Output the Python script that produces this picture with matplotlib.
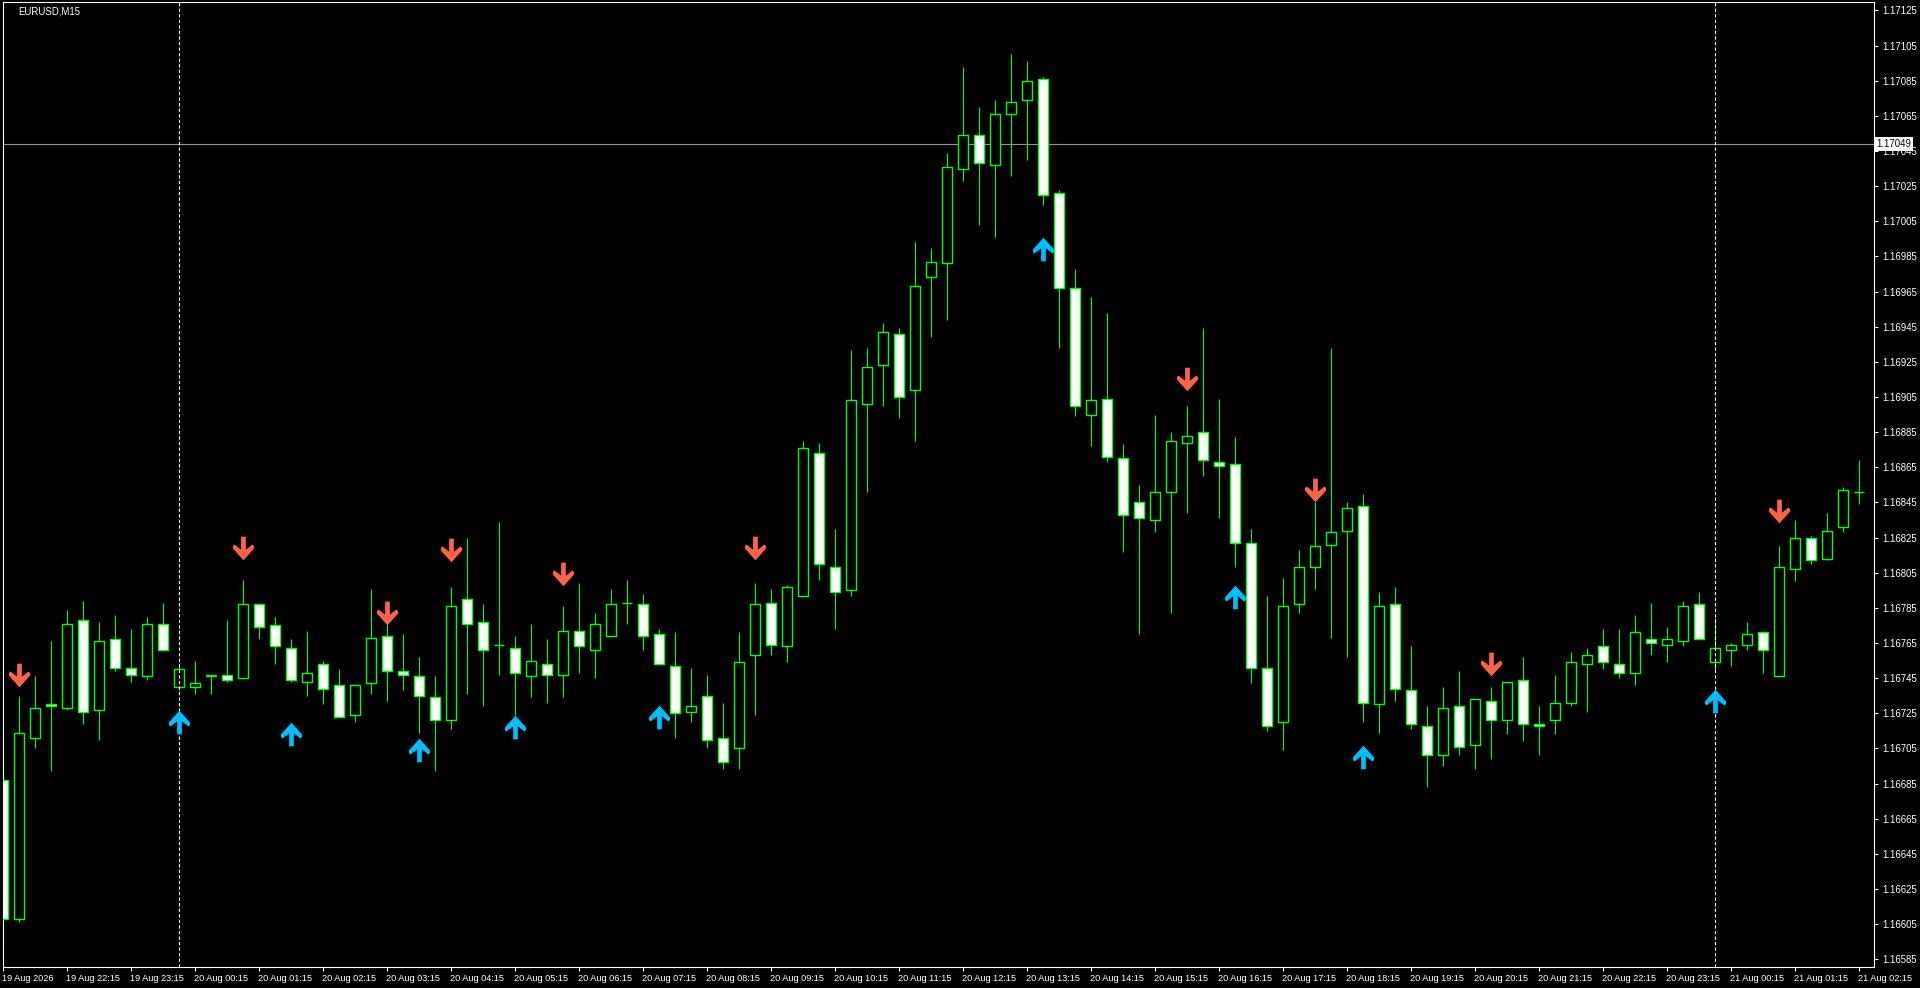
import matplotlib
matplotlib.use("Agg")
import matplotlib.pyplot as plt
import matplotlib.transforms as mtransforms
from matplotlib.path import Path
import numpy as np

# EURUSD M15 bars, 19 Aug 21:15 -> 21 Aug 02:15
opens = [1.16687, 1.16608, 1.16711, 1.16730, 1.16728, 1.16778, 1.16727, 1.16767, 1.16751, 1.16746,
         1.16776, 1.16740, 1.16740, 1.16747, 1.16747, 1.16745, 1.16787, 1.16775, 1.16762, 1.16743,
         1.16753, 1.16741, 1.16724, 1.16742, 1.16769, 1.16749, 1.16746, 1.16734, 1.16721, 1.16790,
         1.16777, 1.16764, 1.16762, 1.16746, 1.16753, 1.16747, 1.16772, 1.16761, 1.16769, 1.16788,
         1.16787, 1.16770, 1.16752, 1.16726, 1.16735, 1.16711, 1.16705, 1.16758, 1.16788, 1.16763,
         1.16792, 1.16873, 1.16808, 1.16795, 1.16901, 1.16923, 1.16941, 1.16909, 1.16973, 1.16981,
         1.17035, 1.17054, 1.17037, 1.17066, 1.17074, 1.17086, 1.17021, 1.16967, 1.16895, 1.16904,
         1.16870, 1.16845, 1.16835, 1.16851, 1.16879, 1.16885, 1.16868, 1.16867, 1.16822, 1.16751,
         1.16720, 1.16787, 1.16808, 1.16821, 1.16829, 1.16843, 1.16730, 1.16787, 1.16738, 1.16718,
         1.16701, 1.16729, 1.16707, 1.16732, 1.16721, 1.16744, 1.16719, 1.16721, 1.16731, 1.16753,
         1.16763, 1.16753, 1.16748, 1.16767, 1.16764, 1.16766, 1.16787, 1.16754, 1.16761, 1.16764,
         1.16771, 1.16746, 1.16807, 1.16825, 1.16813, 1.16831, 1.16851]
highs = [1.16691, 1.16735, 1.16746, 1.16766, 1.16784, 1.16789, 1.16777, 1.16781, 1.16773, 1.16780,
         1.16788, 1.16752, 1.16755, 1.16747, 1.16778, 1.16801, 1.16788, 1.16780, 1.16767, 1.16772,
         1.16755, 1.16750, 1.16741, 1.16796, 1.16789, 1.16770, 1.16757, 1.16746, 1.16797, 1.16825,
         1.16787, 1.16834, 1.16769, 1.16776, 1.16767, 1.16786, 1.16799, 1.16782, 1.16796, 1.16801,
         1.16793, 1.16773, 1.16771, 1.16751, 1.16747, 1.16731, 1.16771, 1.16799, 1.16796, 1.16798,
         1.16880, 1.16879, 1.16830, 1.16932, 1.16933, 1.16947, 1.16944, 1.16993, 1.16990, 1.17044,
         1.17093, 1.17070, 1.17074, 1.17100, 1.17096, 1.17087, 1.17023, 1.16978, 1.16962, 1.16953,
         1.16878, 1.16855, 1.16895, 1.16885, 1.16900, 1.16944, 1.16904, 1.16882, 1.16830, 1.16792,
         1.16802, 1.16818, 1.16845, 1.16933, 1.16845, 1.16850, 1.16794, 1.16797, 1.16763, 1.16729,
         1.16740, 1.16749, 1.16733, 1.16740, 1.16743, 1.16757, 1.16729, 1.16747, 1.16760, 1.16762,
         1.16773, 1.16773, 1.16781, 1.16788, 1.16774, 1.16789, 1.16794, 1.16779, 1.16765, 1.16777,
         1.16772, 1.16820, 1.16835, 1.16826, 1.16839, 1.16854, 1.16869]
lows = [1.16594, 1.16606, 1.16705, 1.16692, 1.16727, 1.16719, 1.16710, 1.16749, 1.16743, 1.16744,
        1.16761, 1.16738, 1.16736, 1.16736, 1.16743, 1.16745, 1.16767, 1.16753, 1.16743, 1.16735,
        1.16730, 1.16723, 1.16720, 1.16736, 1.16732, 1.16738, 1.16714, 1.16692, 1.16716, 1.16736,
        1.16729, 1.16747, 1.16724, 1.16734, 1.16731, 1.16734, 1.16748, 1.16745, 1.16769, 1.16776,
        1.16761, 1.16753, 1.16711, 1.16720, 1.16705, 1.16693, 1.16693, 1.16724, 1.16758, 1.16754,
        1.16792, 1.16801, 1.16773, 1.16792, 1.16851, 1.16900, 1.16893, 1.16880, 1.16939, 1.16949,
        1.17028, 1.17003, 1.16996, 1.17031, 1.17040, 1.17014, 1.16933, 1.16894, 1.16877, 1.16868,
        1.16817, 1.16770, 1.16828, 1.16782, 1.16839, 1.16860, 1.16836, 1.16808, 1.16742, 1.16715,
        1.16704, 1.16782, 1.16796, 1.16768, 1.16757, 1.16720, 1.16714, 1.16732, 1.16716, 1.16683,
        1.16695, 1.16701, 1.16693, 1.16699, 1.16713, 1.16709, 1.16701, 1.16713, 1.16729, 1.16726,
        1.16750, 1.16745, 1.16741, 1.16758, 1.16754, 1.16763, 1.16767, 1.16749, 1.16752, 1.16761,
        1.16748, 1.16746, 1.16800, 1.16810, 1.16812, 1.16828, 1.16844]
closes = [1.16608, 1.16714, 1.16728, 1.16729, 1.16776, 1.16726, 1.16766, 1.16751, 1.16747, 1.16776,
          1.16761, 1.16750, 1.16742, 1.16746, 1.16744, 1.16787, 1.16774, 1.16763, 1.16744, 1.16748,
          1.16739, 1.16723, 1.16741, 1.16768, 1.16749, 1.16747, 1.16735, 1.16721, 1.16786, 1.16776,
          1.16761, 1.16764, 1.16748, 1.16755, 1.16747, 1.16772, 1.16763, 1.16776, 1.16787, 1.16788,
          1.16769, 1.16753, 1.16725, 1.16729, 1.16710, 1.16697, 1.16754, 1.16787, 1.16764, 1.16797,
          1.16876, 1.16810, 1.16794, 1.16903, 1.16922, 1.16942, 1.16905, 1.16968, 1.16982, 1.17036,
          1.17054, 1.17038, 1.17066, 1.17073, 1.17085, 1.17020, 1.16967, 1.16900, 1.16903, 1.16871,
          1.16838, 1.16836, 1.16851, 1.16880, 1.16883, 1.16869, 1.16866, 1.16822, 1.16751, 1.16718,
          1.16786, 1.16808, 1.16820, 1.16828, 1.16842, 1.16731, 1.16786, 1.16739, 1.16719, 1.16701,
          1.16728, 1.16706, 1.16733, 1.16721, 1.16743, 1.16719, 1.16718, 1.16731, 1.16754, 1.16758,
          1.16754, 1.16748, 1.16771, 1.16765, 1.16767, 1.16786, 1.16767, 1.16762, 1.16764, 1.16770,
          1.16761, 1.16808, 1.16825, 1.16812, 1.16829, 1.16852, 1.16851]

# indicator arrows (bar index, price)
sell_bars = [1, 15, 24, 28, 35, 47, 74, 82, 93, 111]
sell_prices = [1.16747, 1.16819, 1.16782, 1.16818, 1.16804, 1.16819, 1.16915, 1.16852, 1.16753, 1.16840]
buy_bars = [11, 18, 26, 32, 41, 65, 77, 85, 107]
buy_prices = [1.16720, 1.16713, 1.16704, 1.16717, 1.16723, 1.16989, 1.16791, 1.16700, 1.16732]

time_tick_bars = [0, 4, 8, 12, 16, 20, 24, 28, 32, 36, 40, 44, 48, 52, 56,
                  60, 64, 68, 72, 76, 80, 84, 88, 92, 96, 100, 104, 108, 112, 116]
time_tick_labels = ["19 Aug 2026", "19 Aug 22:15", "19 Aug 23:15", "20 Aug 00:15", "20 Aug 01:15",
                    "20 Aug 02:15", "20 Aug 03:15", "20 Aug 04:15", "20 Aug 05:15", "20 Aug 06:15",
                    "20 Aug 07:15", "20 Aug 08:15", "20 Aug 09:15", "20 Aug 10:15", "20 Aug 11:15",
                    "20 Aug 12:15", "20 Aug 13:15", "20 Aug 14:15", "20 Aug 15:15", "20 Aug 16:15",
                    "20 Aug 17:15", "20 Aug 18:15", "20 Aug 19:15", "20 Aug 20:15", "20 Aug 21:15",
                    "20 Aug 22:15", "20 Aug 23:15", "21 Aug 00:15", "21 Aug 01:15", "21 Aug 02:15"]
price_ticks = [1.16585, 1.16605, 1.16625, 1.16645, 1.16665, 1.16685, 1.16705, 1.16725, 1.16745,
               1.16765, 1.16785, 1.16805, 1.16825, 1.16845, 1.16865, 1.16885, 1.16905, 1.16925,
               1.16945, 1.16965, 1.16985, 1.17005, 1.17025, 1.17045, 1.17065, 1.17085, 1.17105, 1.17125]

hline_price = 1.17049
day_separators = [11, 107]

GREEN = "#00ff00"
FONT = "Liberation Sans"
FS = 6.9

plt.rcParams["font.family"] = FONT

# arrow shapes (MT4 style thick arrows)
arrow_pts = [(-0.1, 0.5), (0.1, 0.5), (0.1, -0.05), (0.38, 0.17), (0.45, 0.1), (0.45, 0.0),
             (0.0, -0.5), (-0.45, 0.0), (-0.45, 0.1), (-0.38, 0.17), (-0.1, -0.05), (-0.1, 0.5)]
down_arrow = Path(arrow_pts, closed=True)
up_arrow = Path([(x, -y) for x, y in arrow_pts], closed=True)

fig = plt.figure(figsize=(19.2, 9.88), dpi=100, facecolor="black")
ax = fig.add_axes([2.5 / 1920, 1 - 967 / 988, (1874 - 2.5) / 1920, (967 - 2.5) / 988])
ax.set_facecolor("black")

x = np.arange(len(opens))
o = np.array(opens)
c = np.array(closes)
ax.vlines(x, lows, highs, color=GREEN, lw=0.8, zorder=2)
body_colors = ["white" if cc < oo else "black" for oo, cc in zip(o, c)]
ax.bar(x, np.abs(c - o), bottom=np.minimum(o, c), width=0.62, color=body_colors,
       edgecolor=GREEN, linewidth=1.0, zorder=3)

ax.axhline(hline_price, color="#8a96a3", lw=0.8, zorder=1)
for b in day_separators:
    ax.axvline(b, color="white", lw=0.8, ls=(0, (3, 2)), zorder=4)

ax.plot(sell_bars, sell_prices, ls="none", marker=down_arrow, ms=17,
        color="#ff6347", mew=0, zorder=5)
ax.plot(buy_bars, buy_prices, ls="none", marker=up_arrow, ms=17,
        color="#00bfff", mew=0, zorder=5)

ax.set_xlim(-0.05, 116.92)
ax.set_ylim(1.165806, 1.171295)

ax.yaxis.tick_right()
ax.set_yticks(price_ticks)
ax.set_yticklabels(["%.5f" % p for p in price_ticks])
ax.set_xticks(time_tick_bars)
ax.set_xticklabels(time_tick_labels, ha="left")
ax.tick_params(colors="white", labelsize=FS, length=3, width=0.8, direction="out")
ax.tick_params(axis="x", pad=2, labelsize=6.6)
ax.tick_params(axis="y", pad=3)
shift = mtransforms.ScaledTranslation(-1.5 / 100, 0, fig.dpi_scale_trans)
for lbl in ax.get_xticklabels():
    lbl.set_transform(lbl.get_transform() + shift)
for s in ax.spines.values():
    s.set_color("white")
    s.set_linewidth(0.8)

# price label of the horizontal line
ax.text(1.0012, hline_price, "%.5f" % hline_price, transform=ax.get_yaxis_transform(),
        ha="left", va="center", fontsize=FS, color="black", clip_on=False, zorder=10,
        bbox=dict(facecolor="white", edgecolor="none", pad=1.3))

fig.text(18 / 1920, 1 - 11 / 988, "EURUSD,M15", color="white", fontsize=FS, va="center", ha="left")

fig.savefig("out.png", dpi=100, facecolor="black")
